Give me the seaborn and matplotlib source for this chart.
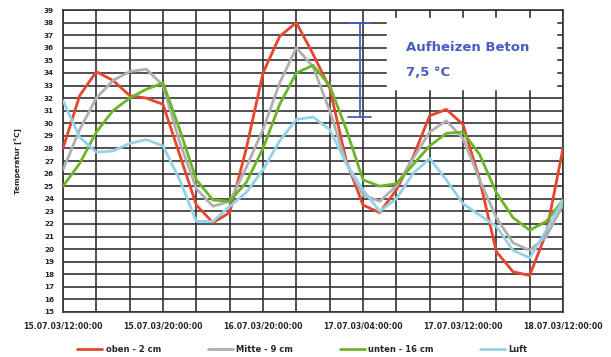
import numpy as np
import pandas as pd
import matplotlib
matplotlib.use('Agg')
import matplotlib.pyplot as plt
import seaborn as sns

# time steps (one grid column = 1 step), read every half step
steps = [i * 0.5 for i in range(31)]

oben = [28.0, 32.2, 34.1, 33.4, 32.2, 32.0, 31.5, 27.5, 23.5, 22.1,
        22.9, 28.0, 34.0, 36.9, 38.0, 35.5, 32.8, 27.0, 23.5, 22.9,
        24.7, 27.3, 30.6, 31.1, 29.9, 25.5, 19.8, 18.2, 17.9, 21.3,
        28.0]
mitte = [26.3, 29.5, 32.0, 33.4, 34.1, 34.3, 33.0, 28.5, 24.8, 23.4,
         23.8, 26.5, 29.5, 33.2, 36.0, 34.5, 31.0, 26.8, 24.3, 23.8,
         25.0, 27.2, 29.3, 30.2, 28.8, 25.5, 22.5, 20.5, 19.9, 21.0,
         23.5]
unten = [25.0, 26.8, 29.3, 31.0, 32.0, 32.7, 33.2, 29.5, 25.5, 23.9,
         23.8, 25.3, 28.0, 31.5, 34.0, 34.6, 33.0, 29.5, 25.5, 25.0,
         25.2, 26.7, 28.2, 29.2, 29.3, 27.5, 24.5, 22.5, 21.5, 22.2,
         23.9]
luft = [31.8, 28.9, 27.7, 27.8, 28.4, 28.7, 28.2, 25.5, 22.2, 22.2,
        23.4, 24.5, 26.3, 28.6, 30.3, 30.5, 29.5, 26.8, 24.7, 23.0,
        24.0, 26.0, 27.2, 25.5, 23.6, 22.7, 21.8, 19.9, 19.3, 21.5,
        23.9]

series_names = ['oben - 2 cm', 'Mitte - 9 cm', 'unten - 16 cm', 'Luft']
colors = ['#e8452f', '#b0b0b0', '#6cb52a', '#93d3ea']

tick_pos = [0, 3, 6, 9, 12, 15]
tick_labels = ['15.07.03/12:00:00', '15.07.03/20:00:00', '16.07.03/20:00:00',
               '17.07.03/04:00:00', '17.07.03/12:00:00', '18.07.03/12:00:00']

peak_top = 38.0
peak_air = 30.5

df = pd.DataFrame({
    'step': steps * 4,
    'temp': oben + mitte + unten + luft,
    'series': sum([[n] * len(steps) for n in series_names], []),
})

sns.set_style('white')
plt.rcParams['font.family'] = ['DejaVu Sans']

fig = plt.figure(figsize=(6.11, 3.57), dpi=100)
ax = fig.add_axes([63 / 611, 45 / 357, 500 / 611, 302 / 357])

sns.lineplot(data=df, x='step', y='temp', hue='series', hue_order=series_names,
             palette=colors, linewidth=2.0, ax=ax, zorder=3)
for ln in ax.get_lines():
    ln.set_solid_joinstyle('round')

ax.set_xlim(0, 15)
ax.set_ylim(15, 39)
ax.set_yticks(range(15, 40))
ax.set_xticks(tick_pos)
ax.set_xticklabels(tick_labels)
ax.set_xticks(range(16), minor=True)
ax.tick_params(axis='both', which='both', labelsize=5.6, length=3, width=1.1, color='#333333')
ax.tick_params(axis='y', labelsize=5.2)
for lab in ax.get_xticklabels() + ax.get_yticklabels():
    lab.set_fontweight('bold')
ax.grid(True, which='both', color='#333333', linewidth=1.2)
ax.set_axisbelow(True)
for s in ax.spines.values():
    s.set_color('#333333')
    s.set_linewidth(1.2)
ax.set_xlabel('')
ax.set_ylabel('Temperatur [°C]', fontsize=5.2, fontweight='bold', labelpad=16)

# annotation box
ax.fill_between([9.72, 14.8], 32.7, 38.4, color='white', zorder=2.5)
ax.text(10.3, 36.0, 'Aufheizen Beton', color='#4a5cc0', fontsize=9.5, fontweight='bold', va='center')
ax.text(10.3, 34.0, '7,5 °C', color='#4a5cc0', fontsize=9.5, fontweight='bold', va='center')
ax.plot([8.9, 8.9], [peak_air, peak_top], color='#4a5cc0', lw=1.3, zorder=4)
ax.plot([8.55, 9.25], [peak_top, peak_top], color='#4a5cc0', lw=1.3, zorder=4)
ax.plot([8.55, 9.25], [peak_air, peak_air], color='#4a5cc0', lw=1.3, zorder=4)

handles, labels = ax.get_legend_handles_labels()
ax.legend_.remove()
leg = fig.legend(handles, labels, loc='center', bbox_to_anchor=(0.495, 0.022), ncol=4,
                 frameon=False, fontsize=6, handlelength=3, columnspacing=5.6, handletextpad=0.4)
for t in leg.get_texts():
    t.set_fontweight('bold')

fig.savefig('out.png', dpi=100)
